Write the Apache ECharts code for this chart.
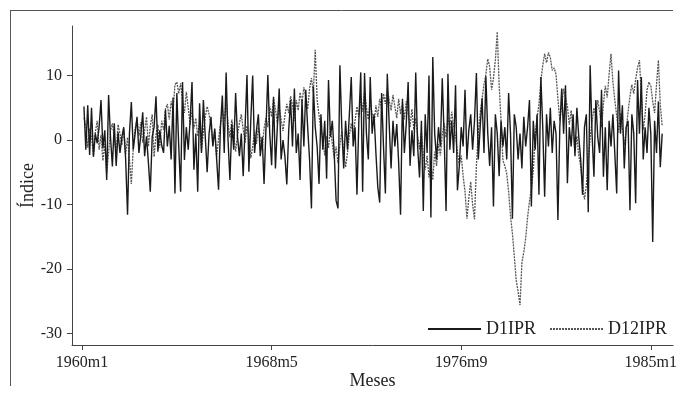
<!DOCTYPE html>
<html>
<head>
<meta charset="utf-8">
<script src="https://cdn.jsdelivr.net/npm/echarts@6/dist/echarts.min.js"></script>
<style>html,body{margin:0;padding:0;background:#fff}#c{width:681px;height:395px}</style>
</head>
<body>
<div id="c"></div>
<script>
// Month index 1 = 1960m2 ... 306 = 1985m7 (0 = 1960m1)
const xTickMonths = [0, 100, 200, 300];
const xTickLabels = ["1960m1", "1968m5", "1976m9", "1985m1"];
const yTicks = [-30, -20, -10, 0, 10];
const seriesNames = ["D1IPR", "D12IPR"];

const d1ipr = [
  5.2,-1.5,5.4,-2.3,5.0,-2.6,1.0,-0.5,2.0,6.2,-1.3,1.5,
  -6.2,7.0,0.5,-4.1,2.6,-4.0,1.2,-2.0,0.5,2.0,-3.0,-11.6,
  1.0,5.9,-1.5,1.0,3.6,-2.0,0.8,4.3,-2.5,0.6,-3.5,-8.0,
  0.5,2.0,6.8,-1.8,1.5,-0.8,-2.0,4.7,-1.0,2.2,-3.0,6.6,
  -8.3,7.3,-1.0,-8.0,9.0,-3.1,2.0,-1.5,3.0,9.0,-4.6,1.0,
  -8.0,5.7,-2.0,6.2,0.5,-5.0,1.0,3.6,-1.0,1.8,-3.0,-7.7,
  2.0,6.9,-2.0,10.5,0.0,-6.2,2.5,-1.5,7.3,0.5,-2.5,1.0,
  -5.6,2.0,10.1,-4.9,3.0,10.0,-2.0,1.5,4.0,-2.5,0.5,-6.8,
  -6.5,10.1,1.0,-3.9,6.7,-4.4,2.0,8.0,-3.0,0.0,-2.5,-6.9,
  1.5,6.2,-1.0,8.0,-2.0,1.0,-6.2,6.2,-1.0,7.8,2.0,-3.0,
  -10.6,8.3,2.0,-1.0,-6.8,4.0,-1.5,3.0,-6.0,9.3,0.5,3.0,
  -2.0,-9.4,-10.6,11.6,2.0,-4.4,3.0,-1.5,4.0,9.8,-1.0,2.0,
  -8.5,3.0,10.5,-8.0,10.4,1.0,-3.0,9.8,1.0,4.0,-2.0,-7.3,
  -9.7,7.3,-1.0,-8.3,10.3,2.5,-4.4,3.0,-1.0,2.5,-3.5,-11.6,
  6.4,-2.0,2.5,9.0,-4.0,1.5,-2.5,10.5,-1.0,-5.8,3.0,-11.0,
  4.0,-2.0,10.0,-12.0,12.9,1.0,-3.0,2.0,-1.0,9.6,0.5,-11.0,
  10.3,-1.5,3.0,-2.0,8.5,-7.8,-4.0,2.0,-1.0,7.8,-3.0,1.5,
  4.0,-1.5,3.0,10.4,-3.0,2.0,6.5,-2.0,9.9,1.0,-4.0,2.0,
  -10.3,4.0,1.0,-5.6,3.0,-1.0,2.0,-3.0,7.3,1.0,-12.2,4.0,
  2.0,-3.0,1.0,-4.4,3.6,-1.0,2.0,6.2,-10.3,3.0,-1.5,4.0,
  -8.5,9.8,2.0,-8.8,4.0,-1.0,5.0,-2.0,3.0,1.0,-12.4,2.0,
  8.0,1.0,8.5,-6.7,2.0,-1.0,4.0,-2.5,5.0,0.5,-3.0,-8.5,
  2.0,4.0,-11.2,11.6,1.0,-5.7,6.2,0.5,-2.0,7.8,-5.7,2.0,
  -7.8,3.0,-1.0,4.0,-2.0,-8.3,10.8,1.0,5.4,-4.4,2.0,3.0,
  -10.9,4.0,1.0,-9.8,9.3,1.0,9.8,-3.0,2.0,-2.0,5.0,1.0,
  -15.8,3.0,-2.0,6.0,-4.2,1.0
];

const d12ipr = [
  3.5,2.1,-1.2,1.8,0.5,-2.4,1.2,3.0,-1.5,0.8,-3.2,-0.6,
  -5.2,-2.0,1.4,2.6,0.2,-1.8,2.4,1.0,-0.8,1.6,-2.2,0.4,
  -3.0,-6.8,-1.2,1.8,3.2,0.6,2.8,-0.4,1.5,3.6,-1.0,2.2,
  4.0,-2.6,0.8,2.4,-1.2,3.0,1.6,4.8,5.6,3.2,6.0,4.4,
  8.6,9.0,7.2,8.8,6.0,4.2,7.5,5.0,2.4,4.6,1.8,3.4,
  0.6,2.8,-1.6,1.2,3.6,5.2,4.0,2.2,-0.8,1.4,-2.6,0.2,
  2.4,4.6,3.0,5.8,2.6,0.4,3.2,1.0,-1.8,0.8,2.6,4.0,
  1.6,-0.4,2.2,0.6,-2.8,-1.0,1.2,-0.6,2.0,0.4,-1.6,1.8,
  3.4,2.0,5.2,3.6,6.4,4.8,2.6,5.0,3.2,1.4,3.8,5.6,
  4.2,6.8,5.4,3.0,6.2,4.6,7.4,5.8,8.2,6.6,4.8,8.0,
  9.6,7.4,14.0,6.2,3.8,1.6,0.2,-2.4,0.6,-1.2,1.8,-0.6,
  -2.8,-1.0,-3.6,-0.8,1.4,-1.8,-4.2,-2.0,0.8,2.6,0.4,3.0,
  5.2,3.6,6.8,4.4,7.6,5.0,3.2,6.0,4.2,2.4,5.4,3.6,
  6.4,4.8,7.2,5.6,8.0,6.2,4.6,7.0,5.2,3.4,6.4,4.0,
  5.8,3.2,6.0,4.4,2.0,4.8,1.6,3.4,0.8,-1.4,1.2,-2.2,
  -4.6,-2.4,-5.8,-3.6,-6.2,-1.8,-4.0,-0.6,-2.4,0.8,2.6,0.4,
  3.6,1.8,4.4,2.2,0.6,-2.0,-3.8,-2.4,-5.6,-8.0,-12.2,-9.0,
  -6.5,-10.0,-12.3,-4.0,1.0,4.2,6.4,8.6,10.2,12.6,11.4,7.8,
  9.6,12.4,16.8,8.5,3.0,-3.2,-4.0,-5.2,-8.0,-11.8,-14.5,-18.0,
  -21.8,-23.5,-25.6,-19.0,-17.4,-15.2,-12.0,-9.5,-7.6,-4.8,0.5,3.4,
  5.6,9.2,11.6,13.4,12.0,13.6,12.8,10.8,11.2,10.2,6.4,3.0,
  5.4,8.0,6.6,5.2,2.4,4.6,1.2,-1.8,0.6,-2.4,-4.0,-6.8,
  -9.2,-7.0,-3.2,0.4,2.8,5.0,3.6,6.2,4.4,2.0,5.6,8.4,
  6.6,10.2,13.4,9.0,6.2,3.8,1.2,4.2,2.0,-0.8,1.6,4.4,
  6.8,8.6,7.2,9.4,11.2,12.4,7.0,1.6,4.0,7.8,9.0,8.4,
  6.0,4.2,8.6,12.4,5.4,2.2
];

const font = "'Liberation Serif', 'DejaVu Serif', serif";
const toPairs = arr => arr.map((v, i) => [i + 1, v]);

const chart = echarts.init(document.getElementById('c'), null, {renderer: 'canvas'});
chart.setOption({
  animation: false,
  backgroundColor: '#fff',
  textStyle: {fontFamily: font},
  grid: {left: 72, right: 8, top: 26, bottom: 50, containLabel: false, outerBoundsMode: 'none'},
  legend: {
    data: seriesNames,
    left: 422, top: 315,
    itemWidth: 53, itemHeight: 14, itemGap: 13,
    itemStyle: {opacity: 0},
    textStyle: {fontFamily: font, fontSize: 18, color: '#222'}
  },
  xAxis: {
    type: 'value', min: -5.3, max: 311.7,
    name: 'Meses', nameLocation: 'middle', nameGap: 27, nameMoveOverlap: false,
    nameTextStyle: {fontFamily: font, fontSize: 18, color: '#222'},
    axisLine: {show: true, onZero: false, lineStyle: {color: '#444', width: 1}},
    axisTick: {show: true, length: 5, customValues: xTickMonths, lineStyle: {color: '#444'}},
    axisLabel: {
      customValues: xTickMonths, margin: 10, fontFamily: font, fontSize: 16, color: '#222',
      formatter: v => xTickLabels[xTickMonths.indexOf(Math.round(v))] || ''
    },
    splitLine: {show: false}
  },
  yAxis: {
    type: 'value', min: -31.8, max: 17.7,
    name: 'Índice', nameLocation: 'middle', nameGap: 35, nameRotate: 90, nameMoveOverlap: false,
    nameTextStyle: {fontFamily: font, fontSize: 18, color: '#222'},
    axisLine: {show: true, onZero: false, lineStyle: {color: '#444', width: 1}},
    axisTick: {show: true, length: 5, customValues: yTicks, lineStyle: {color: '#444'}},
    axisLabel: {customValues: yTicks, margin: 10, fontFamily: font, fontSize: 16, color: '#222'},
    splitLine: {show: false}
  },
  graphic: [
    {type: 'line', shape: {x1: 10.5, y1: 10, x2: 10.5, y2: 386}, style: {stroke: '#555', lineWidth: 1}},
    {type: 'line', shape: {x1: 10, y1: 10.5, x2: 673, y2: 10.5}, style: {stroke: '#555', lineWidth: 1}}
  ],
  series: [
    {
      name: seriesNames[0], type: 'line', data: toPairs(d1ipr),
      symbol: 'none', z: 3,
      itemStyle: {color: '#1a1a1a'},
      lineStyle: {color: '#1a1a1a', width: 1.4}
    },
    {
      name: seriesNames[1], type: 'line', data: toPairs(d12ipr),
      symbol: 'none', z: 2,
      itemStyle: {color: '#555'},
      lineStyle: {color: '#555', width: 1.3, type: [2, 1]}
    }
  ]
});
</script>
</body>
</html>
